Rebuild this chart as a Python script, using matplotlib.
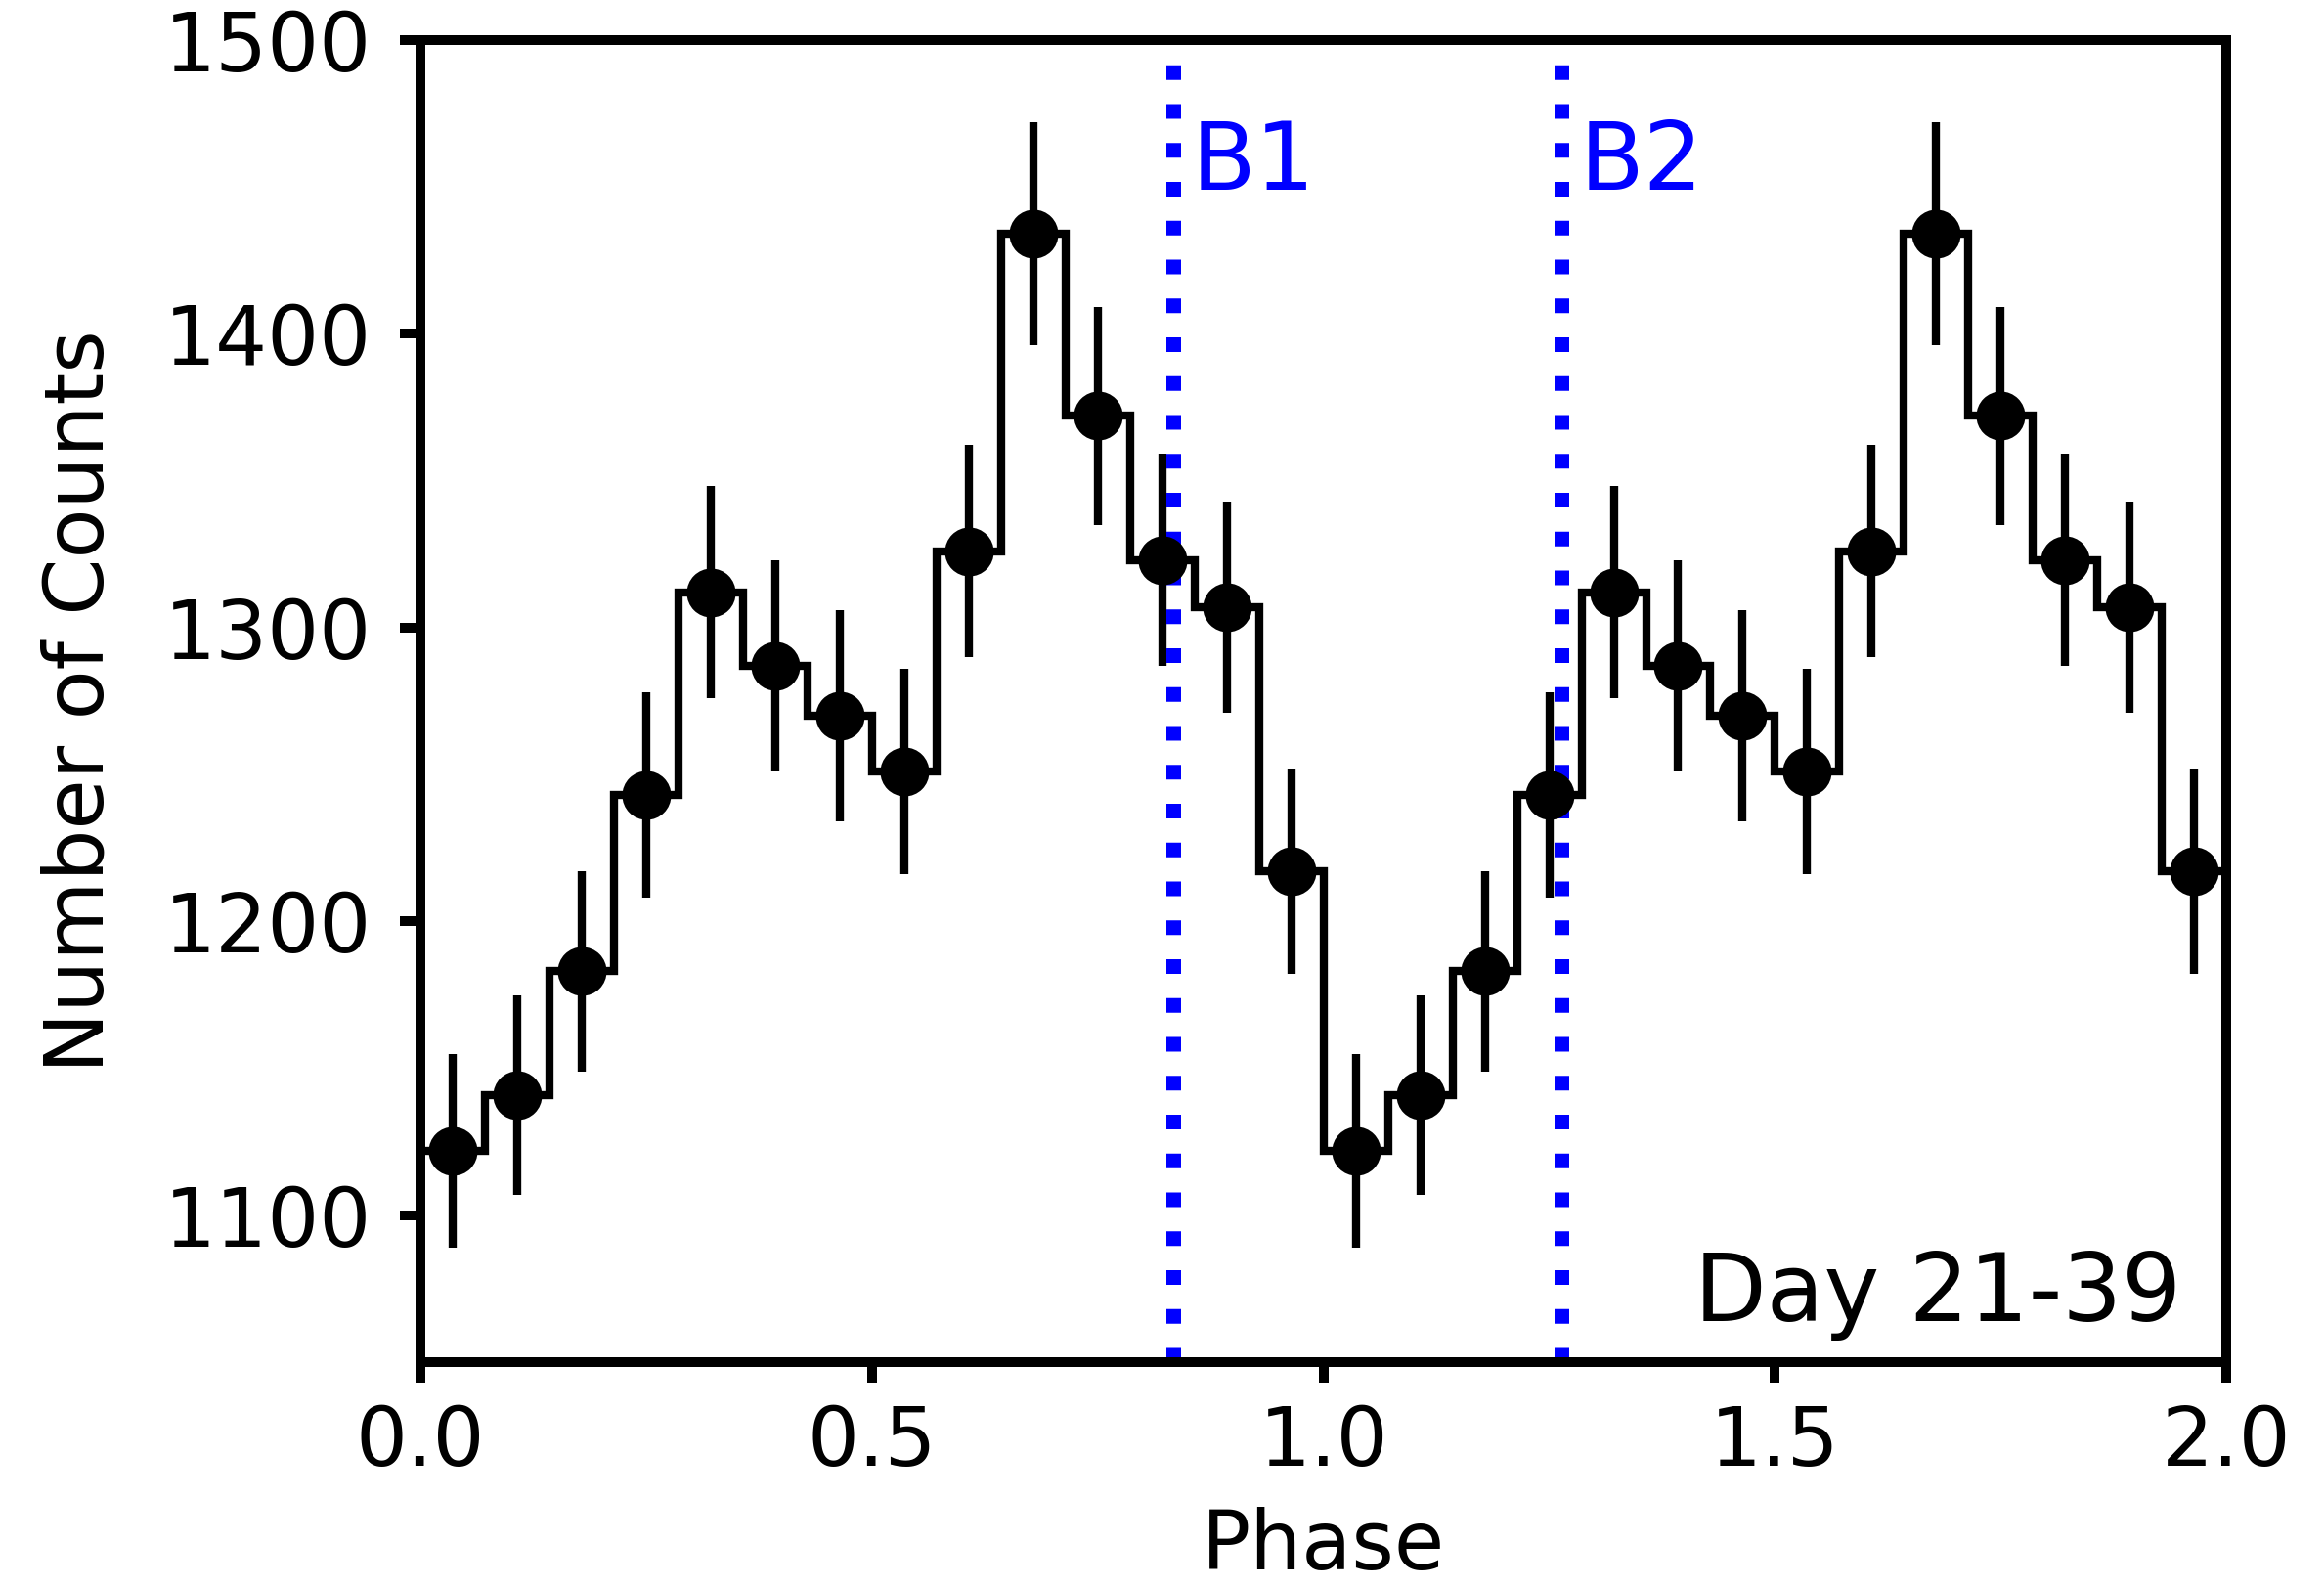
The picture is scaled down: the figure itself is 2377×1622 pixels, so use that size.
import numpy as np
import matplotlib
matplotlib.use('Agg')
import matplotlib.pyplot as plt

# one cycle of the folded light curve, 14 bins, shown twice
counts = [1122, 1141, 1183, 1243, 1312, 1287, 1270, 1251, 1326, 1434, 1372, 1323, 1307, 1217]
errs = [33, 34, 34, 35, 36, 36, 36, 35, 36, 38, 37, 36, 36, 35]
n_bins = 14
n_cycles = 2
b_lines = [0.834, 1.264]
b_labels = ['B1', 'B2']
day_label = 'Day 21-39'

edges = np.arange(n_bins * n_cycles + 1) / n_bins
centers = 0.5 * (edges[:-1] + edges[1:])
counts2 = np.tile(counts, n_cycles)
errs2 = np.tile(errs, n_cycles)

plt.rcParams['font.family'] = 'DejaVu Sans'
fig = plt.figure(figsize=(2377/300, 1622/300), dpi=300)
ax = fig.add_axes([0.181, 0.141, 0.777, 0.834])

ax.stairs(counts2, edges, baseline=None, color='k', lw=2.0)
ax.errorbar(centers, counts2, yerr=errs2, fmt='o', color='k', ms=11, elinewidth=2.0, capsize=0)

for xb, lab in zip(b_lines, b_labels):
    ax.axvline(xb, color='blue', ls=':', lw=3.6)
    ax.text(xb + 0.02, 1449, lab, color='blue', fontsize=23, va='baseline', ha='left')

ax.text(0.975, 0.031, day_label, transform=ax.transAxes, fontsize=23, ha='right', va='baseline')

ax.set_xlim(0, 2)
ax.set_ylim(1050, 1500)
ax.set_xticks([0.0, 0.5, 1.0, 1.5, 2.0])
ax.set_yticks([1100, 1200, 1300, 1400, 1500])
ax.tick_params(labelsize=20, width=2.4, length=5)
ax.tick_params(axis='x', pad=5)
ax.tick_params(axis='y', pad=7)
for s in ax.spines.values():
    s.set_linewidth(2.4)
ax.set_xlabel('Phase', fontsize=20, labelpad=6)
ax.set_ylabel('Number of Counts', fontsize=20, labelpad=11)

fig.savefig('out.png', dpi=300)
